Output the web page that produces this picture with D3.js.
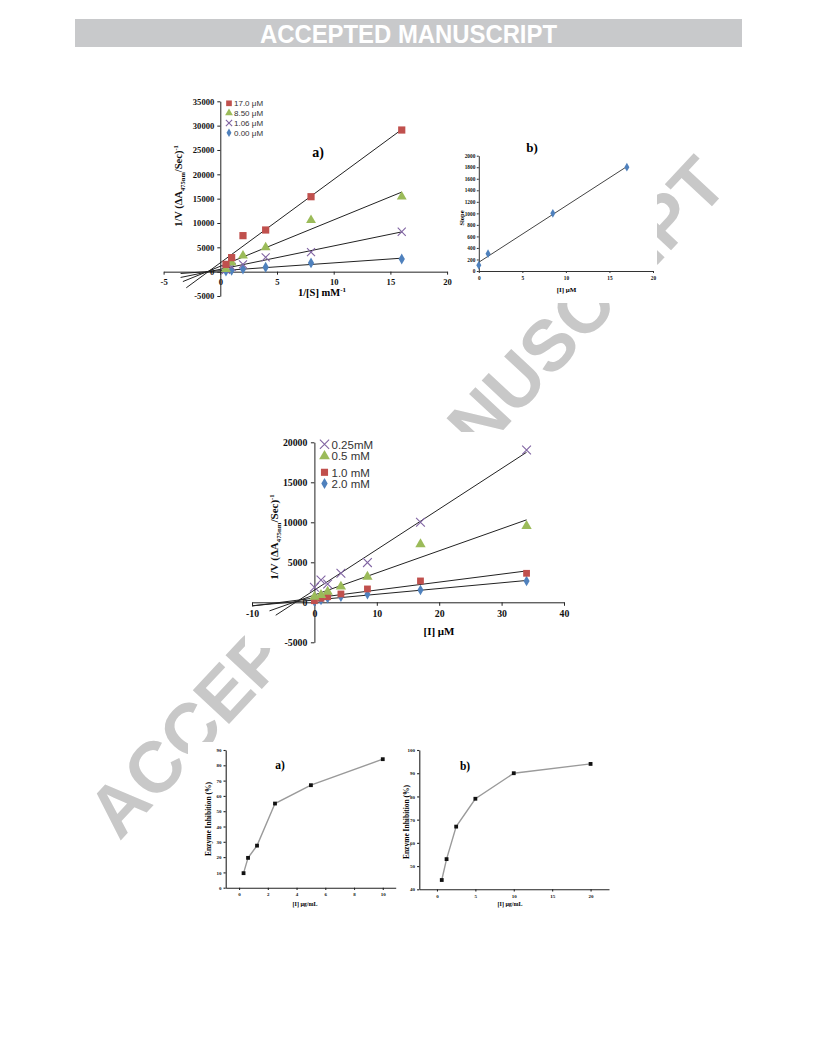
<!DOCTYPE html>
<html><head><meta charset="utf-8">
<script src="https://cdn.jsdelivr.net/npm/d3@7"></script>
<style>body{margin:0;background:#fff}svg{display:block}</style>
</head><body><svg id="c" width="816" height="1056"></svg>
<script>
// ---------------- data ----------------
const headerText = "ACCEPTED MANUSCRIPT";
const watermarkText = "ACCEPTED MANUSCRIPT";

// Panel 1a: Lineweaver-Burk plot
const lbInvS = [0.5, 1, 2, 4, 8, 16];
const lbLabels = ["17.0 μM", "8.50 μM", "1.06 μM", "0.00 μM"];
const lbI170 = [1500, 2880, 7400, 8560, 15400, 29100];
const lbI085 = [500, 1850, 3300, 5000, 10600, 15400];
const lbI106 = [400, 1000, 1500, 2950, 4000, 8200];
const lbI000 = [100, 270, 550, 900, 1800, 2600];
const lbTrendStart = [-3.0, -3.3, -3.5, -3.5];
const lbXTicks = [-5, 0, 5, 10, 15, 20];
const lbYTicks = [-5000, 0, 5000, 10000, 15000, 20000, 25000, 30000, 35000];

// Panel 1b: secondary plot (slope vs [I])
const spI = [0, 1.06, 8.5, 17];
const spSlope = [100, 300, 1000, 1800];
const spXTicks = [0, 5, 10, 15, 20];
const spYTicks = [0, 200, 400, 600, 800, 1000, 1200, 1400, 1600, 1800, 2000];

// Panel 2: Dixon plot
const dxI = [0, 1.06, 2.125, 4.25, 8.5, 17, 34];
const dxLabels = ["0.25mM", "0.5 mM", "1.0 mM", "2.0 mM"];
const dxS025 = [1875, 2790, 2290, 3625, 4960, 10000, 19040];
const dxS05 = [700, 920, 1330, 1960, 3200, 7250, 9540];
const dxS10 = [200, 500, 700, 1040, 1670, 2670, 3625];
const dxS20 = [100, 300, 500, 700, 1000, 1540, 2670];
const dxTrendStart = [-6.2, -7.2, -10, -10];
const dxXTicks = [-10, 0, 10, 20, 30, 40];
const dxYTicks = [-5000, 0, 5000, 10000, 15000, 20000];

// Panel 3a / 3b: enzyme inhibition
const inhAConc = [0.3125, 0.625, 1.25, 2.5, 5, 10];
const inhAVal = [9.5, 19.5, 27.5, 55, 67, 84];
const inhAXTicks = [0, 2, 4, 6, 8, 10];
const inhAYTicks = [0, 10, 20, 30, 40, 50, 60, 70, 80, 90];
const inhBConc = [0.625, 1.25, 2.5, 5, 10, 20];
const inhBVal = [44, 53, 67, 79, 90, 94];
const inhBXTicks = [0, 5, 10, 15, 20];
const inhBYTicks = [40, 50, 60, 70, 80, 90, 100];

// ---------------- helpers ----------------
const serif = "'Liberation Serif','Times New Roman',serif";
const sans = "'Liberation Sans',Arial,sans-serif";
const C = {blue:"#4F81BD", red:"#C0504D", green:"#9BBB59", purple:"#8064A2"};
const svg = d3.select("#c");

function fit(xs, ys){
  const mx = d3.mean(xs), my = d3.mean(ys);
  let sxy = 0, sxx = 0;
  xs.forEach((x,i)=>{ sxy += (x-mx)*(ys[i]-my); sxx += (x-mx)*(x-mx); });
  const b = sxy/sxx; return {b, a: my - b*mx};
}

function axes(g, x, y, xTicks, yTicks, o){
  const xa = d3.axisBottom(x).tickValues(xTicks).tickSize(o.tick).tickSizeOuter(0)
    .tickPadding(o.xpad).tickFormat(d=>String(d));
  const ya = d3.axisLeft(y).tickValues(yTicks).tickSize(o.tick).tickSizeOuter(0)
    .tickPadding(o.ypad).tickFormat(d=>String(d));
  const gx = g.append("g").attr("transform",`translate(0,${o.xAtPx})`).call(xa);
  const gy = g.append("g").attr("transform",`translate(${o.yAtPx},0)`).call(ya);
  [gx,gy].forEach(a=>{
    a.select(".domain").attr("stroke",o.axisColor||"#222").attr("stroke-width",o.aw||1);
    a.selectAll(".tick line").attr("stroke",o.axisColor||"#222").attr("stroke-width",o.aw||1);
    a.selectAll(".tick text").attr("font-family",serif).attr("font-weight","bold")
      .attr("font-size",o.fs).attr("fill","#111");
  });
}

function sym(type, size){ return d3.symbol().type(type).size(size)(); }

function marker(g, type, color, px, py, size){
  const p = g.append("path").attr("d", sym(type,size)).attr("transform",`translate(${px},${py})`);
  if (type === d3.symbolX) p.attr("fill","none").attr("stroke",color).attr("stroke-width",1.1);
  else p.attr("fill",color);
  return p;
}

function yTitle(g, cx, cy, size){
  const t = g.append("text").attr("transform",`translate(${cx},${cy}) rotate(-90)`).attr("text-anchor","middle")
    .attr("font-family",serif).attr("font-weight","bold").attr("font-size",size).attr("fill","#111");
  t.append("tspan").text("1/V (ΔA");
  t.append("tspan").attr("font-size",size*0.62).attr("dy",size*0.3).text("475nm");
  t.append("tspan").attr("dy",-size*0.3).text("/Sec)");
  t.append("tspan").attr("font-size",size*0.62).attr("dy",-size*0.4).text("-1");
}

// ---------------- header ----------------
svg.append("rect").attr("x",75).attr("y",19).attr("width",667).attr("height",28).attr("fill","#c8c9cb");
svg.append("text").attr("x",408.5).attr("y",43).attr("text-anchor","middle")
  .attr("font-family","'Liberation Sans Narrow','Liberation Sans',Arial,sans-serif")
  .attr("font-weight","bold").attr("font-size",25).attr("fill","#fff")
  .attr("textLength",297).attr("lengthAdjust","spacingAndGlyphs").text(headerText);

// ---------------- watermark ----------------
svg.append("text").attr("transform","translate(425,514) rotate(-47)").attr("text-anchor","middle")
  .attr("font-family",sans).attr("font-weight","bold").attr("font-size",72)
  .attr("fill","#c8c8c8").text(watermarkText);

// figure image backgrounds (cover the watermark)
svg.append("rect").attr("x",150).attr("y",80).attr("width",507).attr("height",223).attr("fill","#fff");
svg.append("rect").attr("x",245).attr("y",432).attr("width",330).attr("height",216).attr("fill","#fff");
svg.append("rect").attr("x",188).attr("y",742).attr("width",452).attr("height",172).attr("fill","#fff");

// ---------------- Panel 1a ----------------
(function(){
  const g = svg.append("g");
  const x = d3.scaleLinear().domain([-5,20]).range([163.6,447.1]);
  const y = d3.scaleLinear().domain([-5000,35000]).range([296,101.3]);
  axes(g, x, y, lbXTicks, lbYTicks, {tick:3, xpad:4, ypad:3, fs:8.6, xAtPx:y(0), yAtPx:x(0)});
  const series = [
    {v:lbI170, c:C.red, t:d3.symbolSquare, s:52},
    {v:lbI085, c:C.green, t:d3.symbolTriangle, s:42},
    {v:lbI106, c:C.purple, t:d3.symbolX, s:44},
    {v:lbI000, c:C.blue, t:d3.symbolDiamond, s:34}
  ];
  const line = d3.line().x(d=>x(d[0])).y(d=>y(d[1]));
  series.forEach((s,i)=>{
    const f = fit(lbInvS, s.v);
    const x0 = lbTrendStart[i], x1 = d3.max(lbInvS);
    g.append("path").attr("d", line([[x0,f.a+f.b*x0],[x1,f.a+f.b*x1]]))
      .attr("stroke","#222").attr("stroke-width",1).attr("fill","none");
  });
  series.slice().reverse().forEach(s=>{
    lbInvS.forEach((xv,j)=> marker(g, s.t, s.c, x(xv), y(s.v[j]), s.s));
  });
  series.forEach((s,i)=>{
    const ly = 103.3 + i*9.8;
    marker(g, s.t, s.c, 229, ly, s.s*0.62);
    g.append("text").attr("x",234).attr("y",ly+2.8).attr("font-family",sans).attr("font-size",8)
      .attr("fill","#333").text(lbLabels[i]);
  });
  g.append("text").attr("x",318).attr("y",157).attr("text-anchor","middle").attr("font-family",serif)
    .attr("font-weight","bold").attr("font-size",14).text("a)");
  const xt = g.append("text").attr("x",322).attr("y",296).attr("text-anchor","middle")
    .attr("font-family",serif).attr("font-weight","bold").attr("font-size",10.5);
  xt.append("tspan").text("1/[S] mM");
  xt.append("tspan").attr("font-size",7).attr("dy",-4).text("-1");
  yTitle(g, 182, 186, 10.5);
})();

// ---------------- Panel 1b ----------------
(function(){
  const g = svg.append("g");
  const x = d3.scaleLinear().domain([0,20]).range([478.8,653]);
  const y = d3.scaleLinear().domain([0,2000]).range([271,155.7]);
  axes(g, x, y, spXTicks, spYTicks, {tick:2, xpad:3, ypad:1.5, fs:5.3, xAtPx:y(0), yAtPx:x(0), axisColor:"#333"});
  const f = fit(spI, spSlope);
  const line = d3.line().x(d=>x(d[0])).y(d=>y(d[1]));
  g.append("path").attr("d", line([[0,f.a],[d3.max(spI), f.a+f.b*d3.max(spI)]]))
    .attr("stroke","#444").attr("stroke-width",1).attr("fill","none");
  spI.forEach((xv,j)=> marker(g, d3.symbolDiamond, C.blue, x(xv), y(spSlope[j]), 22));
  g.append("text").attr("x",532).attr("y",152).attr("text-anchor","middle").attr("font-family",serif)
    .attr("font-weight","bold").attr("font-size",13).text("b)");
  g.append("text").attr("x",566.5).attr("y",292).attr("text-anchor","middle").attr("font-family",serif)
    .attr("font-weight","bold").attr("font-size",7).text("[I] μM");
  g.append("text").attr("transform","translate(464,218) rotate(-90)").attr("text-anchor","middle")
    .attr("font-family",serif).attr("font-weight","bold").attr("font-size",6.5).text("Slope");
})();

// ---------------- Panel 2 ----------------
(function(){
  const g = svg.append("g");
  const x = d3.scaleLinear().domain([-10,40]).range([252,564]);
  const y = d3.scaleLinear().domain([-5000,20000]).range([642.3,442.3]);
  axes(g, x, y, dxXTicks, dxYTicks, {tick:3.5, xpad:4.5, ypad:3.5, fs:9.8, xAtPx:y(0), yAtPx:x(0)});
  const series = [
    {v:dxS025, c:C.purple, t:d3.symbolX, s:52},
    {v:dxS05, c:C.green, t:d3.symbolTriangle, s:46},
    {v:dxS10, c:C.red, t:d3.symbolSquare, s:46},
    {v:dxS20, c:C.blue, t:d3.symbolDiamond, s:32}
  ];
  const line = d3.line().x(d=>x(d[0])).y(d=>y(d[1]));
  series.forEach((s,i)=>{
    const f = fit(dxI, s.v);
    const x0 = dxTrendStart[i], x1 = d3.max(dxI);
    g.append("path").attr("d", line([[x0,f.a+f.b*x0],[x1,f.a+f.b*x1]]))
      .attr("stroke","#222").attr("stroke-width",1).attr("fill","none");
  });
  series.slice().reverse().forEach(s=>{
    dxI.forEach((xv,j)=> marker(g, s.t, s.c, x(xv), y(s.v[j]), s.s));
  });
  const legY = [444.3, 456.2, 472.3, 483.6];
  series.forEach((s,i)=>{
    marker(g, s.t, s.c, 324.5, legY[i], s.s*1.1);
    g.append("text").attr("x",331.5).attr("y",legY[i]+4.2).attr("font-family",sans).attr("font-size",11.5)
      .attr("fill","#333").text(dxLabels[i]);
  });
  g.append("text").attr("x",439).attr("y",635).attr("text-anchor","middle").attr("font-family",serif)
    .attr("font-weight","bold").attr("font-size",11).text("[I] μM");
  yTitle(g, 278, 537, 11);
})();

// ---------------- Panel 3a / 3b ----------------
function inhPanel(conc, val, xd, xr, yd, yr, xTicks, yTicks, lab, labPos, xtPos, ytPos){
  const g = svg.append("g");
  const x = d3.scaleLinear().domain(xd).range(xr);
  const y = d3.scaleLinear().domain(yd).range(yr);
  axes(g, x, y, xTicks, yTicks, {tick:2.2, xpad:2.5, ypad:2, fs:5, xAtPx:yr[0], yAtPx:xr[0], axisColor:"#222", aw:1.1});
  const line = d3.line().x((d,i)=>x(conc[i])).y(d=>y(d));
  g.append("path").attr("d", line(val)).attr("stroke","#9a9a9a").attr("stroke-width",1.4).attr("fill","none");
  conc.forEach((c,i)=> g.append("rect").attr("x",x(c)-1.9).attr("y",y(val[i])-1.9)
    .attr("width",3.8).attr("height",3.8).attr("fill","#111"));
  g.append("text").attr("x",labPos[0]).attr("y",labPos[1]).attr("text-anchor","middle").attr("font-family",serif)
    .attr("font-weight","bold").attr("font-size",11.5).text(lab);
  g.append("text").attr("x",xtPos[0]).attr("y",xtPos[1]).attr("text-anchor","middle").attr("font-family",serif)
    .attr("font-weight","bold").attr("font-size",6).text("[I] μg/mL");
  g.append("text").attr("transform",`translate(${ytPos[0]},${ytPos[1]}) rotate(-90)`).attr("text-anchor","middle")
    .attr("font-family",serif).attr("font-weight","bold").attr("font-size",7.5).text("Enzyme Inhibition (%)");
}
inhPanel(inhAConc, inhAVal, [-0.93,10.9], [225.7,395.7], [0,90], [887.7,750], inhAXTicks, inhAYTicks,
  "a)", [280,769], [305,906], [211,819]);
inhPanel(inhBConc, inhBVal, [-2.3,22.4], [419.3,609], [40,100], [889.3,750], inhBXTicks, inhBYTicks,
  "b)", [465,770], [510,906], [409,822]);
</script></body></html>
